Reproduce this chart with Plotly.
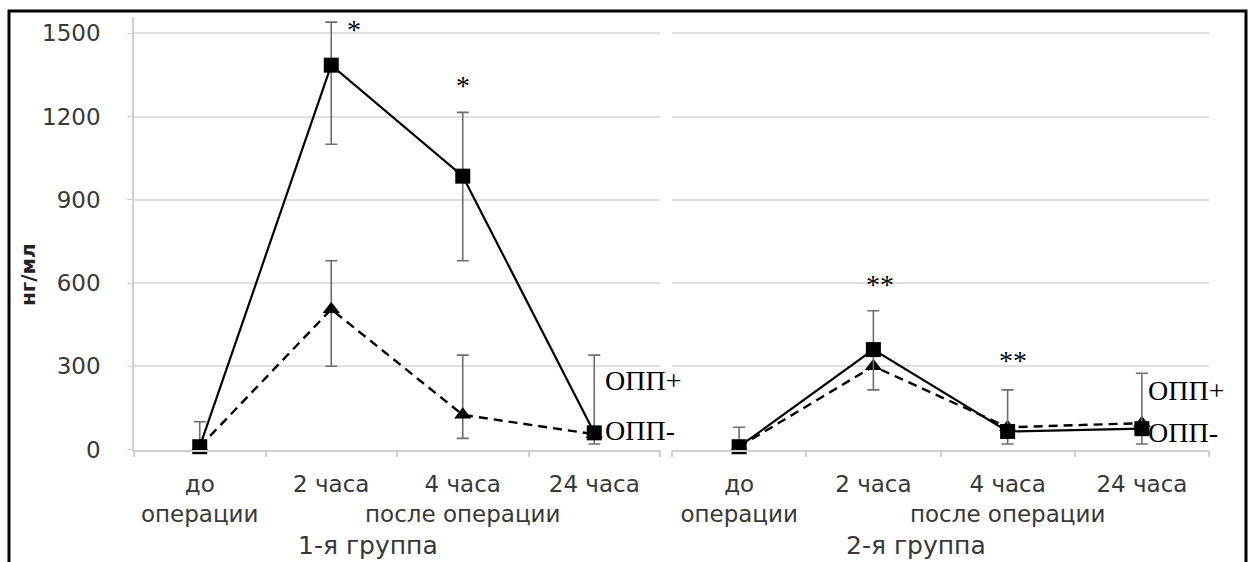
import plotly.graph_objects as go

W, H = 1251, 562

# ---------------- data ----------------
categories = ["до", "2 часа", "4 часа", "24 часа"]
tick_labels = ["до<br>операции", "2 часа", "4 часа<br>после операции", "24 часа"]
y_ticks = [0, 300, 600, 900, 1200, 1500]

# 1-я группа
g1_plus = [10, 1385, 985, 60]
g1_plus_err_up = [90, 155, 230, 280]
g1_plus_err_down = [10, 285, 305, 40]
g1_minus = [10, 505, 125, 55]
g1_minus_err_up = [None, 175, 215, None]
g1_minus_err_down = [None, 205, 85, None]

# 2-я группа
g2_plus = [10, 360, 65, 75]
g2_plus_err_up = [70, 140, 150, 200]
g2_plus_err_down = [10, 145, 45, 55]
g2_minus = [10, 300, 80, 95]

# significance marks
sig1_cats = ["2 часа", "4 часа"]
sig1_y = [1515, 1313]
sig1_text = ["*", "*"]
sig2_cats = ["2 часа", "4 часа"]
sig2_y = [596, 322]
sig2_text = ["**", "**"]

# series labels at the last category
label_text = ["ОПП+", "ОПП-"]
label1_y = [247, 70]
label2_y = [214, 63]

group_titles = ["1-я группа", "2-я группа"]
y_title = "нг/мл"

# ---------------- style ----------------
SANS = "DejaVu Sans"
SERIF = "Liberation Serif"
ERR_COLOR = "#6e6e6e"
GRID = "#e0e0e0"
AXIS = "#cfcfcf"
TXT = "#383838"
sig1_xshift = [23, 0]
sig2_xshift = [7, 5]


def err(up, down):
    return dict(type="data", symmetric=False, array=up, arrayminus=down,
                color=ERR_COLOR, thickness=1.6, width=6, visible=True)


fig = go.Figure()

def add_group(xa, ya, plus, plus_up, plus_dn, minus, minus_up=None, minus_dn=None):
    tri = dict(x=categories, y=minus, xaxis=xa, yaxis=ya, mode="lines+markers",
               line=dict(color="black", width=2.4, dash="9px,6px"),
               marker=dict(symbol="triangle-up", size=15, color="black"),
               cliponaxis=False, showlegend=False, name="ОПП-")
    if minus_up is not None:
        tri["error_y"] = err(minus_up, minus_dn)
    fig.add_trace(go.Scatter(**tri))
    fig.add_trace(go.Scatter(
        x=categories, y=plus, xaxis=xa, yaxis=ya, mode="lines+markers",
        line=dict(color="black", width=2.2),
        marker=dict(symbol="square", size=15, color="black"),
        error_y=err(plus_up, plus_dn),
        cliponaxis=False, showlegend=False, name="ОПП+"))

add_group("x", "y", g1_plus, g1_plus_err_up, g1_plus_err_down,
          g1_minus, g1_minus_err_up, g1_minus_err_down)
add_group("x2", "y2", g2_plus, g2_plus_err_up, g2_plus_err_down, g2_minus)

x1_dom = [134 / W, 660 / W]
x2_dom = [672 / W, 1209 / W]
y_dom = [1 - 449.5 / H, 1 - 16.6 / H]
y_range = [0, 1560]

xcommon = dict(type="category", categoryorder="array", categoryarray=categories,
               tickmode="array", tickvals=categories, ticktext=tick_labels,
               range=[-0.5, 3.5], tickson="boundaries", ticks="outside",
               ticklen=6, tickcolor=AXIS, tickwidth=1.5, tickangle=0,
               showline=True, linecolor=AXIS, linewidth=1.5,
               showgrid=False, zeroline=False, automargin=False,
               ticklabelstandoff=13,
               tickfont=dict(family=SANS, size=23, color=TXT))

annotations = []
for c, yv, t, xs in zip(sig1_cats, sig1_y, sig1_text, sig1_xshift):
    annotations.append(dict(x=c, y=yv, xref="x", yref="y", text=t, showarrow=False,
                            xshift=xs, yshift=0, xanchor="center", yanchor="middle",
                            font=dict(family=SERIF, size=28, color="black")))
for c, yv, t, xs in zip(sig2_cats, sig2_y, sig2_text, sig2_xshift):
    annotations.append(dict(x=c, y=yv, xref="x2", yref="y2", text=t, showarrow=False,
                            xshift=xs, yshift=0, xanchor="center", yanchor="middle",
                            font=dict(family=SERIF, size=28, color="black")))
for t, yv in zip(label_text, label1_y):
    annotations.append(dict(x=categories[-1], y=yv, xref="x", yref="y", text=t,
                            showarrow=False, xanchor="left", yanchor="middle", xshift=9,
                            font=dict(family=SERIF, size=28, color="black")))
for t, yv in zip(label_text, label2_y):
    annotations.append(dict(x=categories[-1], y=yv, xref="x2", yref="y2", text=t,
                            showarrow=False, xanchor="left", yanchor="middle", xshift=4,
                            font=dict(family=SERIF, size=28, color="black")))
annotations.append(dict(x=368 / W, y=1 - 545 / H, xref="paper", yref="paper",
                        text=group_titles[0], showarrow=False,
                        xanchor="center", yanchor="middle",
                        font=dict(family=SANS, size=25, color=TXT)))
annotations.append(dict(x=916 / W, y=1 - 545 / H, xref="paper", yref="paper",
                        text=group_titles[1], showarrow=False,
                        xanchor="center", yanchor="middle",
                        font=dict(family=SANS, size=25, color=TXT)))
annotations.append(dict(x=28 / W, y=1 - 275 / H, xref="paper", yref="paper",
                        text="<b>" + y_title + "</b>", showarrow=False, textangle=-90,
                        xanchor="center", yanchor="middle",
                        font=dict(family=SANS, size=20, color="#222222")))

fig.update_layout(
    width=W, height=H,
    margin=dict(l=0, r=0, t=0, b=0, pad=0),
    paper_bgcolor="white", plot_bgcolor="white",
    showlegend=False,
    xaxis=dict(domain=x1_dom, anchor="y", **xcommon),
    xaxis2=dict(domain=x2_dom, anchor="y2", **xcommon),
    yaxis=dict(domain=y_dom, anchor="x", range=y_range, tickmode="array",
               tickvals=y_ticks, showgrid=True, gridcolor=GRID, gridwidth=1.5,
               zeroline=False, showline=True, linecolor=AXIS, linewidth=1.5,
               ticks="outside", ticklen=5, tickcolor=AXIS, automargin=False,
               ticklabelstandoff=22,
               tickfont=dict(family=SANS, size=23, color=TXT)),
    yaxis2=dict(domain=y_dom, anchor="x2", range=y_range, tickmode="array",
                tickvals=y_ticks, showgrid=True, gridcolor=GRID, gridwidth=1.5,
                zeroline=False, showline=False, showticklabels=False, ticks="",
                automargin=False),
    annotations=annotations,
    shapes=[dict(type="rect", xref="paper", yref="paper",
                 x0=9 / W, x1=1246 / W, y0=-0.05, y1=1 - 11 / H,
                 line=dict(color="black", width=3), fillcolor="rgba(0,0,0,0)",
                 layer="above")],
)

fig.write_html("out.html")
